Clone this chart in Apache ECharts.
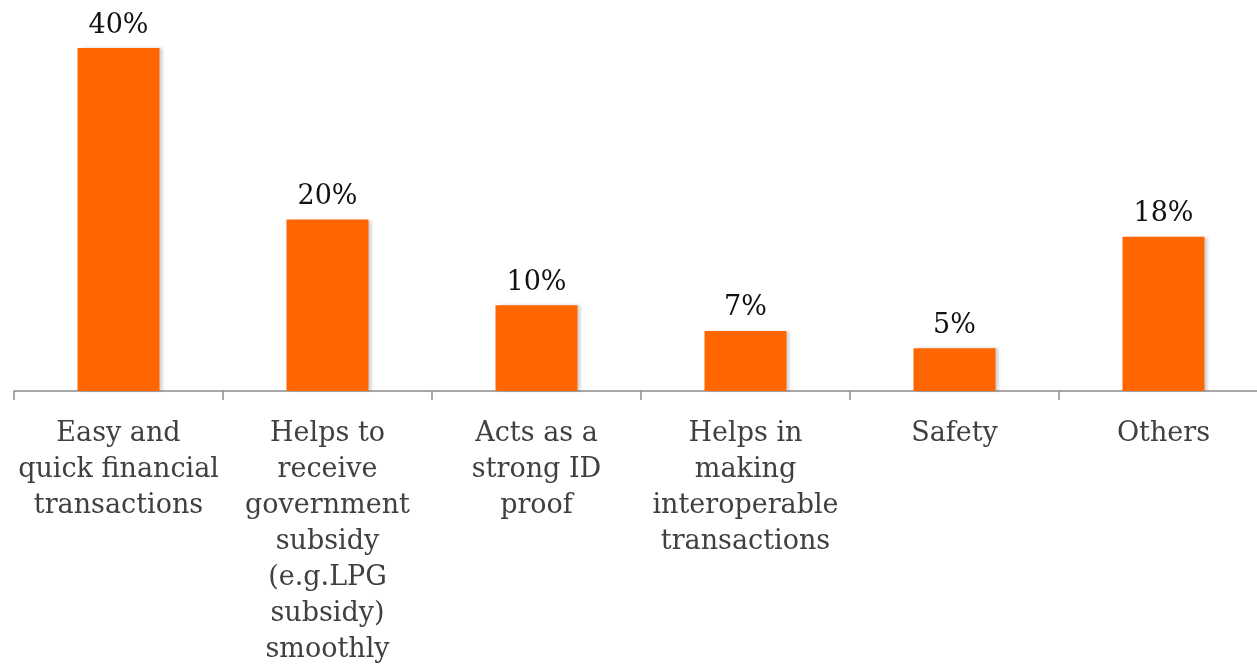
<!DOCTYPE html>
<html>
<head>
<meta charset="utf-8">
<script src="https://cdn.jsdelivr.net/npm/echarts@6/dist/echarts.min.js"></script>
<style>
  html, body { margin: 0; padding: 0; background: #fff; overflow: hidden; width: 1257px; height: 664px; }
  /* the plot runs slightly past the right edge of the page */
  #chart { position: absolute; left: 0; top: 0; width: 1268px; height: 664px; }
</style>
</head>
<body>
<div id="chart"></div>
<script>
// Reasons cited for the usefulness of the ID (share of respondents, %)
const categories = [
  "Easy and\nquick financial\ntransactions",
  "Helps to\nreceive\ngovernment\nsubsidy\n(e.g.LPG\nsubsidy)\nsmoothly",
  "Acts as a\nstrong ID\nproof",
  "Helps in\nmaking\ninteroperable\ntransactions",
  "Safety",
  "Others"
];
const shares = [40, 20, 10, 7, 5, 18];

const serif = "'DejaVu Serif', 'Liberation Serif', serif";

const chart = echarts.init(document.getElementById('chart'), null, { width: 1268, height: 664 });
chart.setOption({
  animation: false,
  grid: {
    left: 14, top: 48, right: 0, bottom: 273,
    containLabel: false,
    outerBoundsMode: 'none'
  },
  xAxis: {
    type: 'category',
    data: categories,
    axisLine: { lineStyle: { color: '#8c8c8c', width: 1.5 } },
    axisTick: { show: true, length: 9, lineStyle: { color: '#8c8c8c', width: 1.5 } },
    axisLabel: {
      interval: 0,
      margin: 25,
      color: '#404040',
      fontFamily: serif,
      fontSize: 27,
      lineHeight: 36
    }
  },
  yAxis: {
    type: 'value',
    min: 0,
    max: 40,
    show: false,
    splitLine: { show: false }
  },
  series: [{
    type: 'bar',
    data: shares,
    barWidth: 82,
    itemStyle: {
      color: '#FF6600',
      shadowColor: 'rgba(0,0,0,0.18)',
      shadowBlur: 3,
      shadowOffsetX: 3,
      shadowOffsetY: 0
    },
    label: {
      show: true,
      position: 'top',
      distance: 9,
      formatter: '{c}%',
      color: '#111',
      fontFamily: serif,
      fontSize: 27
    }
  }]
});
</script>
</body>
</html>
